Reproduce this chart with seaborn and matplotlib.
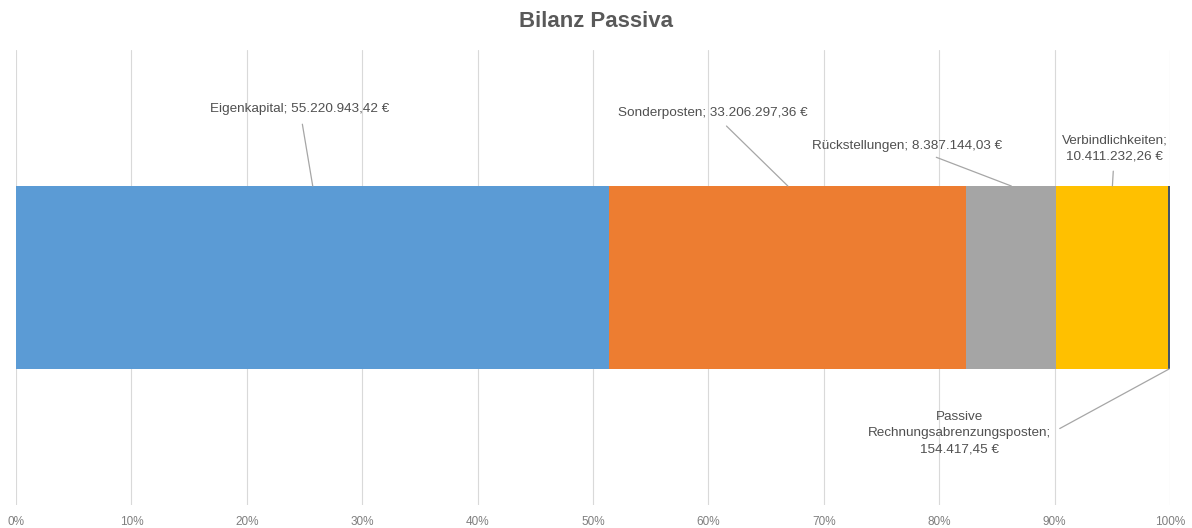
import pandas as pd
import matplotlib.pyplot as plt
import seaborn as sns

# Bilanz Passiva - Werte in Euro

posten = ['Eigenkapital', 'Sonderposten', 'Rückstellungen', 'Verbindlichkeiten',
          'Passive Rechnungsabrenzungsposten']
werte = [55220943.42, 33206297.36, 8387144.03, 10411232.26, 154417.45]
farben = ['#5B9BD5', '#ED7D31', '#A5A5A5', '#FFC000', '#44546A']
ticks = [0, 10, 20, 30, 40, 50, 60, 70, 80, 90, 100]

# label text, text position (x in %, y in data units), edge of bar the line points to
beschriftung = ['Eigenkapital; 55.220.943,42 €',
                'Sonderposten; 33.206.297,36 €',
                'Rückstellungen; 8.387.144,03 €',
                'Verbindlichkeiten;\n10.411.232,26 €',
                'Passive\nRechnungsabrenzungsposten;\n154.417,45 €']
text_x = [24.6, 60.4, 77.2, 95.2, 81.8]
text_y = [-0.735, -0.72, -0.575, -0.565, 0.68]
kante = [-0.4, -0.4, -0.4, -0.4, 0.4]
linie_start = [(0.5, 0.5), (0.5, 0.5), (0.5, 0.5), (0.5, 0.5), (1.0, 0.5)]

# Percentages and cumulative sums for the 100% stacked bar

df = pd.DataFrame({'Posten': posten, 'Wert': werte})
df['Prozent'] = df['Wert'] / df['Wert'].sum() * 100
df['Kumuliert'] = df['Prozent'].cumsum()
df['Start'] = df['Kumuliert'] - df['Prozent']
df['Mitte'] = df['Start'] + df['Prozent'] / 2
df['Gruppe'] = 'Passiva'

sns.set_style('white')
plt.rcParams['font.family'] = ['Liberation Sans', 'DejaVu Sans']

fig = plt.figure(figsize=(11.92, 5.28), dpi=100)
ax = fig.add_axes([16 / 1192, 1 - 505 / 528, 1154 / 1192, 455 / 528])

# draw cumulative bars from the largest down so the segments stack up
sns.barplot(data=df, x='Kumuliert', y='Gruppe', hue='Posten', hue_order=posten[::-1],
            palette=dict(zip(posten, farben)), dodge=False, width=0.8,
            legend=False, saturation=1, linewidth=0, edgecolor='none', ax=ax)

ax.set_xlim(0, 100)
ax.set_ylim(0.995, -0.995)
ax.set_xticks(ticks)
ax.set_xticklabels(['{}%'.format(t) for t in ticks], fontsize=8.5, color='#7F7F7F')
ax.tick_params(axis='x', length=0, pad=8)
ax.set_yticks([])
ax.set_xlabel('')
ax.set_ylabel('')
ax.grid(axis='x', color='#D9D9D9', linewidth=0.8)
ax.set_axisbelow(True)
for s in ax.spines.values():
    s.set_visible(False)

for i in range(len(posten)):
    ax.annotate(beschriftung[i], xy=(df['Mitte'][i], kante[i]),
                xytext=(text_x[i], text_y[i]), textcoords='data',
                ha='center', va='center', fontsize=9.7, color='#505050',
                linespacing=1.45,
                arrowprops=dict(arrowstyle='-', color='#A6A6A6', lw=0.9,
                                shrinkA=4, shrinkB=0, relpos=linie_start[i]))

fig.suptitle('Bilanz Passiva', x=0.5, y=0.98, fontsize=16, fontweight='bold',
             color='#595959')

print(df[['Posten', 'Wert', 'Prozent']])

plt.savefig('out.png', dpi=100)
